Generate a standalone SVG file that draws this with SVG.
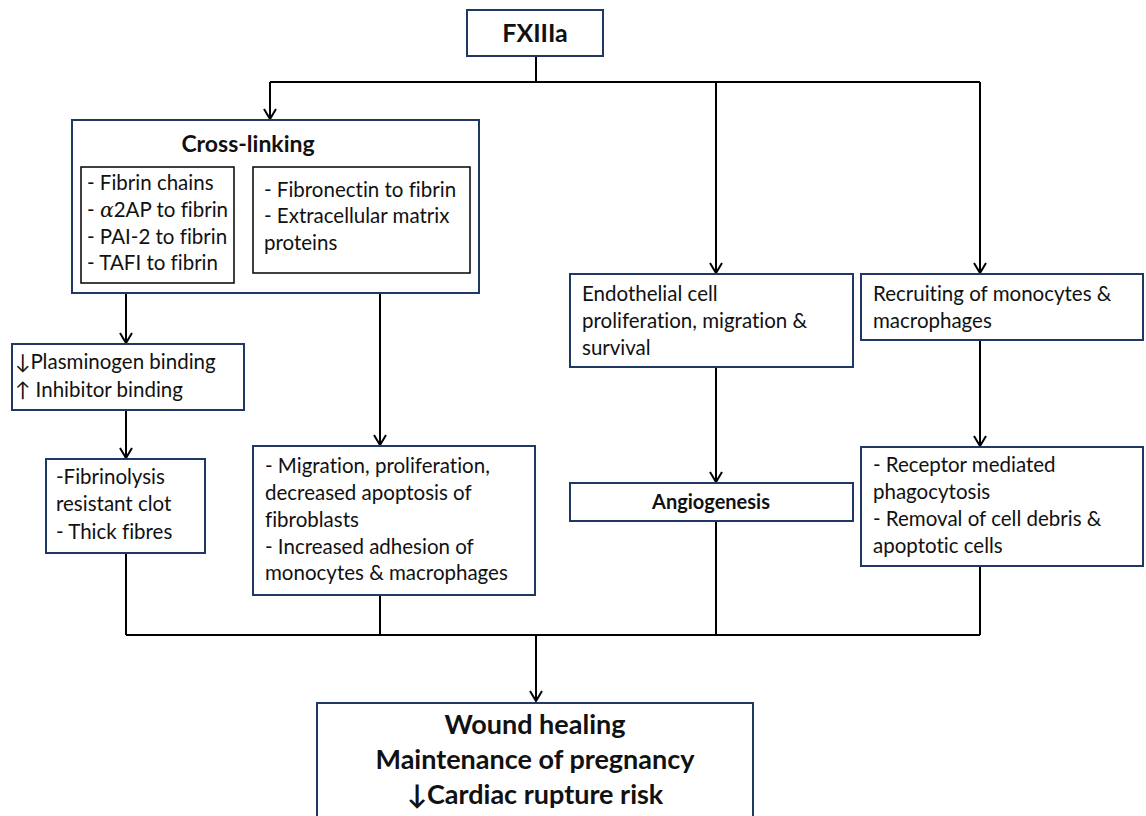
<svg xmlns="http://www.w3.org/2000/svg" width="1146" height="816" viewBox="0 0 1146 816">
<defs>
<marker id="arr" markerWidth="16" markerHeight="16" refX="13" refY="8" orient="auto" markerUnits="userSpaceOnUse" viewBox="0 0 16 16">
<path d="M3,2 L13,8 L3,14" fill="none" stroke="#000" stroke-width="2"/>
</marker>
<style>
.box{fill:#fff;stroke:#1f3864;stroke-width:2}
.ibox{fill:#fff;stroke:#000;stroke-width:1.5}
.t{font-family:Lato,"Liberation Sans",sans-serif;font-size:20.5px;fill:#111;font-variant-ligatures:none}
.b{font-family:Lato,"Liberation Sans",sans-serif;font-weight:bold;fill:#111;font-variant-ligatures:none}
.c{fill:none;stroke:#000;stroke-width:2}
</style>
</defs>
<rect width="1146" height="816" fill="#fff"/>
<g id="connectors">
<path class="c" d="M536,56 V82 M270,82 H980"/>
<path class="c" d="M270,82 V119" marker-end="url(#arr)"/>
<path class="c" d="M716,82 V273" marker-end="url(#arr)"/>
<path class="c" d="M980,82 V273" marker-end="url(#arr)"/>
<path class="c" d="M126,293 V343" marker-end="url(#arr)"/>
<path class="c" d="M380,293 V445" marker-end="url(#arr)"/>
<path class="c" d="M126,410 V458" marker-end="url(#arr)"/>
<path class="c" d="M716,367 V482" marker-end="url(#arr)"/>
<path class="c" d="M980,340 V446" marker-end="url(#arr)"/>
<path class="c" d="M126,553 V635 M380,595 V635 M716,521 V635 M980,566 V635 M126,635 H980"/>
<path class="c" d="M536,635 V701" marker-end="url(#arr)"/>
</g>
<g id="fxiiia">
<rect class="box" x="467" y="10" width="136" height="46"/>
<text class="b" x="535" y="42" font-size="25" text-anchor="middle">FXIIIa</text>
</g>
<g id="crosslinking">
<rect class="box" x="72" y="120" width="407" height="173"/>
<text class="b" x="248" y="152" font-size="23" text-anchor="middle">Cross-linking</text>
<rect class="ibox" x="81" y="167" width="153" height="116"/>
<text class="t" x="87" y="190">- Fibrin chains</text>
<text class="t" x="87" y="217">- <tspan font-family="'DejaVu Serif',serif" font-style="italic">α</tspan>2AP to fibrin</text>
<text class="t" x="87" y="244">- PAI-2 to fibrin</text>
<text class="t" x="87" y="270">- TAFI to fibrin</text>
<rect class="ibox" x="253" y="167" width="217" height="106"/>
<text class="t" x="264" y="197">- Fibronectin to fibrin</text>
<text class="t" x="264" y="223">- Extracellular matrix</text>
<text class="t" x="264" y="250">proteins</text>
</g>
<g id="plasminogen">
<rect class="box" x="12" y="344" width="232" height="66"/>
<text class="t" x="15" y="369">↓Plasminogen binding</text>
<text class="t" x="15" y="397">↑ Inhibitor binding</text>
</g>
<g id="fibrinolysis">
<rect class="box" x="46" y="459" width="159" height="94"/>
<text class="t" x="56" y="484">-Fibrinolysis</text>
<text class="t" x="56" y="511">resistant clot</text>
<text class="t" x="56" y="539">- Thick fibres</text>
</g>
<g id="migration">
<rect class="box" x="253" y="446" width="282" height="149"/>
<text class="t" x="265" y="473">- Migration, proliferation,</text>
<text class="t" x="265" y="500">decreased apoptosis of</text>
<text class="t" x="265" y="527">fibroblasts</text>
<text class="t" x="265" y="554">- Increased adhesion of</text>
<text class="t" x="265" y="580">monocytes &amp; macrophages</text>
</g>
<g id="endothelial">
<rect class="box" x="570" y="274" width="283" height="93"/>
<text class="t" x="582" y="301">Endothelial cell</text>
<text class="t" x="582" y="328">proliferation, migration &amp;</text>
<text class="t" x="582" y="355">survival</text>
</g>
<g id="angiogenesis">
<rect class="box" x="570" y="483" width="283" height="38"/>
<text class="b" x="711" y="509" font-size="20" text-anchor="middle">Angiogenesis</text>
</g>
<g id="recruiting">
<rect class="box" x="861" y="274" width="282" height="66"/>
<text class="t" x="873" y="301">Recruiting of monocytes &amp;</text>
<text class="t" x="873" y="328">macrophages</text>
</g>
<g id="receptor">
<rect class="box" x="861" y="447" width="282" height="119"/>
<text class="t" x="873" y="472">- Receptor mediated</text>
<text class="t" x="873" y="499">phagocytosis</text>
<text class="t" x="873" y="526">- Removal of cell debris &amp;</text>
<text class="t" x="873" y="553">apoptotic cells</text>
</g>
<g id="outcome">
<rect class="box" x="317" y="703" width="436" height="125"/>
<text class="b" x="535" y="734" font-size="27" text-anchor="middle">Wound healing</text>
<text class="b" x="535" y="769" font-size="27" text-anchor="middle">Maintenance of pregnancy</text>
<text class="b" x="535" y="804" font-size="27" text-anchor="middle">↓Cardiac rupture risk</text>
</g>
</svg>
